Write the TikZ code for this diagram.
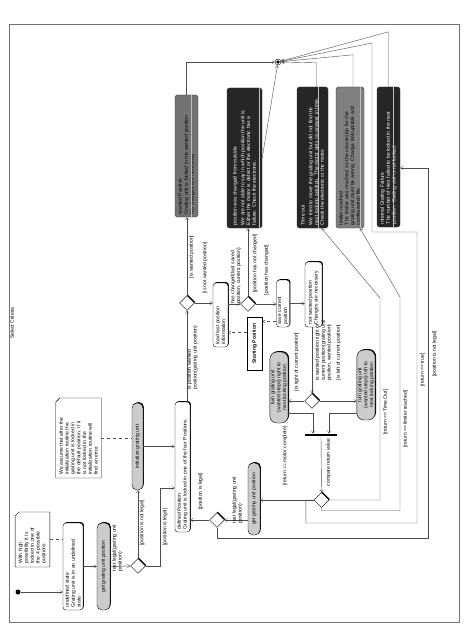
\documentclass[tikz,border=0pt]{standalone}
\usepackage{fontspec}
\setmainfont{Liberation Sans}
\usetikzlibrary{shapes.geometric, shapes.misc, shadows, arrows.meta}

\newcommand{\sepline}[2]{\draw[white!75!black, line width = 0.3pt] ([xshift = -#2]#1.south east) -- ([xshift = -#2]#1.south west);}

\begin{document}
\begin{tikzpicture}[x = 1pt, y = -1pt,
  font = \fontsize{5}{5.8}\selectfont,
  flow/.style = {draw = black!70, line width = 0.4pt, -{Straight Barb[length = 2.5pt, width = 3.2pt]}},
  link/.style = {draw = black!70, line width = 0.4pt, dashed},
  objflow/.style = {link, -{Straight Barb[length = 2.5pt, width = 3.2pt]}},
  boxshadow/.style = {drop shadow = {shadow xshift = 0.9pt, shadow yshift = 0.9pt, fill = black, opacity = 1}},
  action/.style = {rotate = 90, draw = black, fill = white, rounded corners = 3pt, boxshadow, align = left, inner sep = 1.5pt},
  pill/.style = {rotate = 90, draw = black, fill = black!20, rounded corners = 5pt, boxshadow, align = center, inner sep = 1pt},
  errbox/.style = {rotate = 90, draw = black!80, fill = black!85, text = white, rounded corners = 2.5pt, align = left, inner sep = 2pt},
  decision/.style = {diamond, draw = black, fill = white, boxshadow, minimum size = 15pt, inner sep = 0pt},
  note/.style = {rotate = 90, chamfered rectangle, chamfered rectangle corners = north east, chamfered rectangle xsep = 2pt, chamfered rectangle ysep = 2pt, draw = black, fill = white, align = left, inner sep = 1.5pt},
  guard/.style = {rotate = 90, inner sep = 0pt, align = left}]

\useasboundingbox (0, 0) rectangle (474, 631);

% Frame
\draw[black!55, line width = 0.8pt] (9, 24) rectangle (459, 622);
\node[guard] (title) at (12, 323) {Select Criteria};

% Undefined state
\node[circle, fill = black, minimum size = 5pt, inner sep = 0pt] (start) at (18, 592) {};
\node[action, minimum width = 87pt, minimum height = 20pt, text width = 82pt] (undef) at (73, 566.5) {undefined state\\Grating unit is in an undefined\\state};
\node[note, minimum width = 55pt, minimum height = 31pt, text width = 48pt] (hint) at (32.5, 539.5) {With high\\possibility it is\\locked in one of\\the 4 possible\\positions};
\node[pill, minimum width = 87pt, minimum height = 13pt] (getpos) at (103.5, 566.5) {get grating unit position};
\node[decision] (legal) at (138, 566) {};
\node[pill, minimum width = 87pt, minimum height = 11pt] (init) at (137.5, 446.5) {initialize grating unit};
\node[note, minimum width = 80pt, minimum height = 43pt, text width = 73pt] (assume) at (78.5, 438) {We assume that after the\\initialization routine the\\grating unit is locked in\\the default position. If it\\is not locked in the\\initialization routine will\\find an error.};

% Defined position
\node[action, minimum width = 130pt, minimum height = 15pt, text width = 125pt] (defined) at (182.5, 467) {defined Position\\Grating unit is locked in one of the four Positions};
\node[decision] (legaltoo) at (217, 520) {};
\node[pill, minimum width = 72pt, minimum height = 12pt] (getpostoo) at (254, 499) {get grating unit position};
\node[decision] (wanted) at (187, 303) {};
\node[errbox, fill = black!55, text = black, minimum width = 122pt, minimum height = 23pt, text width = 116pt] (iswanted) at (186.5, 156) {wanted Position\\Grating unit is locked in the wanted position\\No changes are necessary};
\node[action, minimum width = 64pt, minimum height = 15pt, text width = 59pt] (loadlast) at (220.5, 315) {load last position\\information};
\node[decision] (changed) at (248, 304) {};
\node[rotate = 90, draw = black, line width = 0.9pt, fill = white, minimum width = 53pt, minimum height = 15pt, font = \fontsize{5}{5.8}\selectfont\bfseries] (startpos) at (254.5, 343.5) {Starting Position};
\node[action, minimum width = 47pt, minimum height = 12pt, text width = 42pt] (savepos) at (283, 303.5) {save current\\position};
\node[action, minimum width = 65pt, minimum height = 17pt, text width = 60pt] (notwanted) at (313.5, 294.5) {not wanted position\\Changes are necessary};

% Turning
\node[decision] (direction) at (312, 401) {};
\node[pill, rounded corners = 7pt, minimum width = 71pt, minimum height = 18pt] (turnright) at (279, 387.5) {turn grating unit\\(wanted steps) right to\\next locking position};
\node[pill, rounded corners = 7pt, minimum width = 70pt, minimum height = 18pt] (turnleft) at (366, 385) {turn grating unit\\(wanted steps) left to\\next locking position};
\node[fill = black, minimum width = 32pt, minimum height = 2.5pt, inner sep = 0pt] (join) at (321, 435) {};
\node[decision] (compare) at (321.5, 500) {};

% Errors
\node[errbox, minimum width = 140pt, minimum height = 35pt, text width = 134pt] (outside) at (244.5, 158) {position was changed from outside\\[2pt]We are not able to say in which position the unit is.\\Either the motor is defect or the electronic has a\\failure. Check the electronic.};
\node[errbox, minimum width = 141pt, minimum height = 31pt, text width = 135pt] (errtime) at (312.5, 157.5) {Time out\\[2pt]We tried to move the grating unit but did not find the\\next locking position. The motor gets no answer in time.\\Check the electronic or the motor.};
\node[errbox, fill = black!50, text = black, minimum width = 141pt, minimum height = 28pt, text width = 135pt] (errlimit) at (350, 157.5) {limiter reached\\The limiter was reached, so the conversion for the\\grating unit must be wrong. Change lookuptable and\\configuration file.};
\node[errbox, minimum width = 140pt, minimum height = 23pt, text width = 134pt] (errgrating) at (388.5, 157) {internal Grating Failure\\The number of tries failed to be locked in the next\\position. Grating unit is not locked.};
\sepline{iswanted}{7pt}
\sepline{outside}{3.5pt}
\sepline{errtime}{10pt}
\sepline{errlimit}{4pt}
\sepline{errgrating}{7pt}

\node[circle, draw = black, minimum size = 6pt, inner sep = 0pt, path picture = {\fill (path picture bounding box.center) circle (1.8pt);}] (final) at (278, 62) {};

% Connectors
\draw[flow] (start) -- (start -| undef.north);
\draw[link] (hint.south) -- (hint.south -| undef.north);
\draw[flow] (undef.south) -- (getpos.north);
\draw[flow] (getpos.south) -- (legal.west);
\draw[flow] (legal.north) -- (legal.north |- init.west);
\draw[link] (assume.south) -- (assume.south -| init.north);
\draw[flow] (init.south) -- (init.south -| defined.north);
\coordinate (legalbend) at (160, 488);
\draw[flow] (legal.east) -| (legalbend) -- (legalbend -| defined.north);

\draw[flow] (legaltoo.west) -- (legaltoo.west -| defined.south);
\draw[flow] (legaltoo.east -| getpostoo.north) -- (legaltoo.east);
\coordinate (notlegalbend) at (428, 168);
\draw[flow] (legaltoo.south) -- ++(0, 10) -| (notlegalbend) -- (notlegalbend -| errgrating.south);

\draw[flow] (defined.east -| wanted.south) -- (wanted.south);
\draw[flow] (wanted.north) -- (wanted.north |- iswanted.west);
\draw[flow] (wanted.east) -- (wanted.east -| loadlast.north);
\draw[flow] (changed.west -| loadlast.south) -- (changed.west);
\draw[flow] (changed.north) -- (changed.north |- outside.west);
\draw[flow] (changed.east) -- (changed.east -| savepos.north);
\draw[objflow] ([yshift = -18pt]savepos.north) -- ([yshift = -18pt]savepos.north -| startpos.south);
\draw[objflow] ([yshift = 11pt]startpos.north) -- ([yshift = 11pt]startpos.north -| loadlast.south);
\draw[flow] (savepos.south) -- (savepos.south -| notwanted.north);
\draw[flow] (direction.north |- notwanted.west) -- (direction.north);
\draw[flow] (direction.west) -- (direction.west -| turnright.south);
\draw[flow] (direction.east) -- (direction.east -| turnleft.north);
\draw[flow] ([yshift = -25.5pt]turnright.south) -| ([xshift = -8pt]join.north);
\draw[flow] ([yshift = -28pt]turnleft.north) -| ([xshift = 8pt]join.north);
\draw[flow] (join.south) -- (compare.north);
\draw[flow] (compare.west) -- (compare.west -| getpostoo.south);

% Return values
\coordinate (truebend) at (417, 232);
\coordinate (trueup) at (372, 43);
\draw[flow] (compare.west) -- ++(-8, 0) -- ++(0, 23) -| (truebend) -| (trueup) -- (final);
\coordinate (limitbend) at (400, 297);
\draw[flow] (compare.south) -- ++(0, 3) -| (limitbend) -- ([xshift = 10pt]errlimit.west);
\coordinate (timebend) at (380, 298);
\draw[flow] (compare.east) -| (timebend) -- ([xshift = 9pt]errtime.west);

% Into the end
\draw[flow] (iswanted.east) |- (final);
\draw[flow] (outside.south) -- (final);
\draw[flow] ([xshift = 4pt]errtime.east) -- ++(0, -24) -- (final);
\draw[flow] ([xshift = 3pt]errlimit.east) -- ++(0, -32) -- (final);
\draw[flow] (errgrating.east) -- ++(0, -55) -- (final);

% Guards
\foreach \gx/\gy/\gtext [count = \gi] in {
  117.5/548/{test legal(grating unit\\position)},
  142/523/{[position is not legal]},
  165/527/{[position is legal]},
  200.5/491.5/{[position is legal]},
  237.5/500/{test legal(grating unit\\position)},
  192.5/357.5/{is position wanted\\position(grating unit position)},
  191.5/257/{[is wanted position]},
  205/268/{[is not wanted position]},
  236/276/{has changed(last saved\\position, current position)},
  255/263.5/{[position has not changed]},
  266.5/270/{[position has changed]},
  323.5/350.5/{is wanted position right of\\current position(grating unit\\position, wanted position)},
  338.5/352.5/{[is left of current position]},
  296.5/362/{[is right of current position]},
  328.5/462.5/{compare return value},
  285/456/{[return == motor complete]},
  385.5/412/{[return == Time Out]},
  405.5/419/{[return == limiter reached]},
  422.5/370/{[return == true]},
  434.5/354/{[position is not legal]}}
  \node[guard] (guard\gi) at (\gx, \gy) {\gtext};

\end{tikzpicture}
\end{document}
